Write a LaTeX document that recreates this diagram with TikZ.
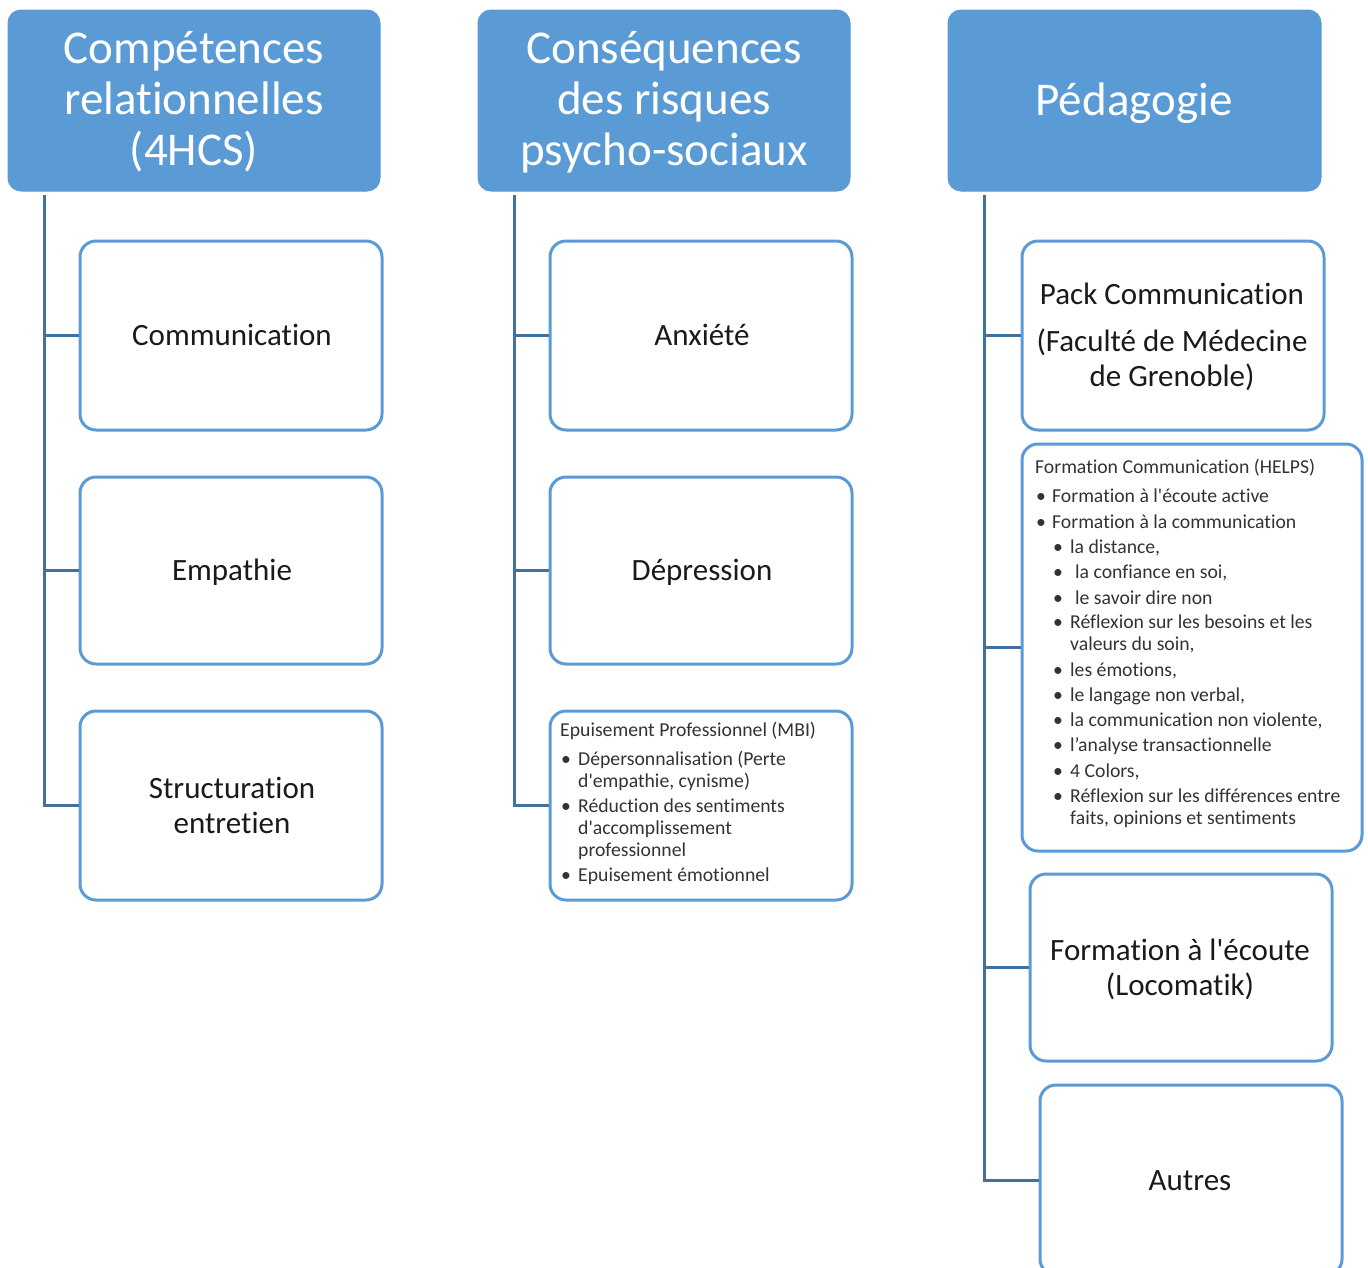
\documentclass[tikz,border=0pt]{standalone}
\usepackage{fontspec}
\setmainfont[Ligatures={TeXOff,NoCommon}]{Carlito}
\definecolor{hdr}{HTML}{5B9BD5}
\definecolor{trunk}{HTML}{41719C}
\definecolor{txt}{HTML}{1A1A1A}
\definecolor{small}{HTML}{333333}
\begin{document}
\begin{tikzpicture}[x=1pt,y=-1pt,
  header/.style={draw=hdr,fill=hdr,line width=1pt,rounded corners=13pt,inner sep=0pt},
  itembox/.style={draw=hdr,line width=3pt,rounded corners=16pt,fill=white,inner sep=0pt},
  htext/.style={anchor=base,text=white,font=\fontsize{47}{52}\selectfont,inner sep=0pt},
  btext/.style={anchor=base,text=txt,font=\fontsize{31}{36}\selectfont,inner sep=0pt},
  stext/.style={anchor=base west,text=small,font=\fontsize{19.7}{22}\selectfont,inner sep=0pt},
  bul/.style={anchor=base,text=small,font=\fontsize{19.7}{22}\selectfont,inner sep=0pt},
  conn/.style={draw=trunk,line width=3pt}]
\clip (0,0) rectangle (1368,1267);
\fill[white] (0,0) rectangle (1368,1267);

% headers
\node[header,minimum width=372pt,minimum height=181pt] (h1) at (194,100.5) {};
\node[header,minimum width=372pt,minimum height=181pt] (h2) at (664,100.5) {};
\node[header,minimum width=373pt,minimum height=181pt] (h3) at (1134.5,100.5) {};
\node[htext] (h1a) at (194,63) {Compétences};
\node[htext] (h1b) at (194,114) {relationnelles};
\node[htext] (h1c) at (194,165) {(4HCS)};
\node[htext] (h2a) at (664,63) {Conséquences};
\node[htext] (h2b) at (664,114) {des risques};
\node[htext] (h2c) at (664,165) {psycho-sociaux};
\node[htext] (h3a) at (1134,115) {Pédagogie};

% trunk start points
\coordinate (t1) at (44,195);
\coordinate (t2) at (514,195);
\coordinate (t3) at (984,195);

% column 1 boxes
\node[itembox,minimum width=302pt,minimum height=189pt] (c1) at (231,335.5) {};
\node[itembox,minimum width=302pt,minimum height=187pt] (e1) at (231,570.5) {};
\node[itembox,minimum width=302pt,minimum height=189pt] (s1) at (231,805.5) {};
% column 2 boxes
\node[itembox,minimum width=302pt,minimum height=189pt] (a2) at (701,335.5) {};
\node[itembox,minimum width=302pt,minimum height=187pt] (d2) at (701,570.5) {};
\node[itembox,minimum width=302pt,minimum height=189pt] (m2) at (701,805.5) {};
% column 3 boxes
\node[itembox,minimum width=302pt,minimum height=189pt] (p3) at (1173,335.5) {};
\node[itembox,minimum width=340pt,minimum height=407pt] (f3) at (1192,647.5) {};
\node[itembox,minimum width=302pt,minimum height=187pt] (l3) at (1181,967.5) {};
\node[itembox,minimum width=302pt,minimum height=190pt] (o3) at (1191,1180) {};

% connectors
\draw[conn] (t1) |- (s1.west);
\draw[conn] (t1 |- c1.west) -- (c1.west);
\draw[conn] (t1 |- e1.west) -- (e1.west);
\draw[conn] (t2) |- (m2.west);
\draw[conn] (t2 |- a2.west) -- (a2.west);
\draw[conn] (t2 |- d2.west) -- (d2.west);
\draw[conn] (t3) |- (o3.west);
\draw[conn] (t3 |- p3.west) -- (p3.west);
\draw[conn] (t3 |- f3.west) -- (f3.west);
\draw[conn] (t3 |- l3.west) -- (l3.west);

% column 1 text
\node[btext] (c1t) at (232,345) {Communication};
\node[btext] (e1t) at (232,580) {Empathie};
\node[btext] (s1a) at (232,798) {Structuration};
\node[btext] (s1b) at (232,833) {entretien};

% column 2 text
\node[btext] (a2t) at (702,345) {Anxiété};
\node[btext] (d2t) at (702,580) {Dépression};
\node[stext] (m2t) at (560,736) {Epuisement Professionnel (MBI)};
\node[bul] (m2b1) at (566,765) {•};
\node[stext] (m2l1) at (578,765) {Dépersonnalisation (Perte};
\node[stext] (m2l2) at (578,787) {d'empathie, cynisme)};
\node[bul] (m2b2) at (566,812) {•};
\node[stext] (m2l3) at (578,812) {Réduction des sentiments};
\node[stext] (m2l4) at (578,834) {d'accomplissement};
\node[stext] (m2l5) at (578,856) {professionnel};
\node[bul] (m2b3) at (566,881) {•};
\node[stext] (m2l6) at (578,881) {Epuisement émotionnel};

% column 3 text
\node[btext] (p3a) at (1172,304) {Pack Communication};
\node[btext] (p3b) at (1172,351) {(Faculté de Médecine};
\node[btext] (p3c) at (1172,386) {de Grenoble)};

\node[stext] (f3t) at (1035,473) {Formation Communication (HELPS)};
\node[bul] (f3b1) at (1041,502) {•};
\node[stext] (f3l1) at (1052,502) {Formation à l'écoute active};
\node[bul] (f3b2) at (1041,528) {•};
\node[stext] (f3l2) at (1052,528) {Formation à la communication};
\node[bul] (f3b3) at (1058,553) {•};
\node[stext] (f3l3) at (1070,553) {la distance,};
\node[bul] (f3b4) at (1058,578) {•};
\node[stext] (f3l4) at (1075,578) {la confiance en soi,};
\node[bul] (f3b5) at (1058,604) {•};
\node[stext] (f3l5) at (1075,604) {le savoir dire non};
\node[bul] (f3b6) at (1058,628) {•};
\node[stext] (f3l6) at (1070,628) {Réflexion sur les besoins et les};
\node[stext] (f3l7) at (1070,650) {valeurs du soin,};
\node[bul] (f3b7) at (1058,676) {•};
\node[stext] (f3l8) at (1070,676) {les émotions,};
\node[bul] (f3b8) at (1058,701) {•};
\node[stext] (f3l9) at (1070,701) {le langage non verbal,};
\node[bul] (f3b9) at (1058,726) {•};
\node[stext] (f3l10) at (1070,726) {la communication non violente,};
\node[bul] (f3b10) at (1058,751) {•};
\node[stext] (f3l11) at (1070,751) {l’analyse transactionnelle};
\node[bul] (f3b11) at (1058,777) {•};
\node[stext] (f3l12) at (1070,777) {4 Colors,};
\node[bul] (f3b12) at (1058,802) {•};
\node[stext] (f3l13) at (1070,802) {Réflexion sur les différences entre};
\node[stext] (f3l14) at (1070,824) {faits, opinions et sentiments};

\node[btext] (l3a) at (1180,960) {Formation à l'écoute};
\node[btext] (l3b) at (1180,995) {(Locomatik)};
\node[btext] (o3t) at (1190,1190) {Autres};
\end{tikzpicture}
\end{document}
